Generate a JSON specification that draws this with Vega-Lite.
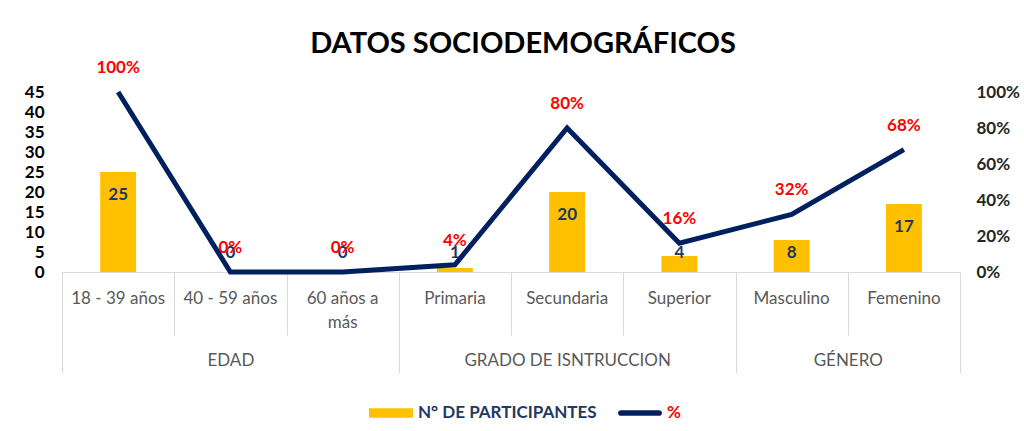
{
  "$schema": "https://vega.github.io/schema/vega-lite/v6.json",
  "autosize": {"type": "none"},
  "width": 898,
  "height": 180,
  "padding": {"left": 62, "top": 92, "right": 64, "bottom": 159},
  "background": "#ffffff",
  "config": {"view": {"stroke": null}, "font": "Lato"},
  "title": {"text": "DATOS SOCIODEMOGRÁFICOS", "font": "Lato", "fontSize": 29, "fontWeight": "bold", "color": "#000000", "anchor": "middle", "offset": 0, "dx": 12},
  "datasets": {
    "rows": [
      {"cat": "18 - 39 años", "group": "EDAD", "count": 25, "pct": 1.0},
      {"cat": "40 - 59 años", "group": "EDAD", "count": 0, "pct": 0.0},
      {"cat": "60 años a más", "group": "EDAD", "count": 0, "pct": 0.0},
      {"cat": "Primaria", "group": "GRADO DE ISNTRUCCION", "count": 1, "pct": 0.04},
      {"cat": "Secundaria", "group": "GRADO DE ISNTRUCCION", "count": 20, "pct": 0.8},
      {"cat": "Superior", "group": "GRADO DE ISNTRUCCION", "count": 4, "pct": 0.16},
      {"cat": "Masculino", "group": "GÉNERO", "count": 8, "pct": 0.32},
      {"cat": "Femenino", "group": "GÉNERO", "count": 17, "pct": 0.68}
    ],
    "groups": [
      {"group": "EDAD", "mid": 1.5},
      {"group": "GRADO DE ISNTRUCCION", "mid": 4.5},
      {"group": "GÉNERO", "mid": 7}
    ]
  },
  "layer": [
    {
      "data": {"name": "rows"},
      "encoding": {
        "x": {
          "field": "cat", "type": "nominal", "sort": null,
          "scale": {"paddingInner": 0, "paddingOuter": 0},
          "axis": {
            "title": null, "ticks": false, "tickSize": 0, "domain": false, "grid": false,
            "labelAngle": 0, "labelFont": "Lato", "labelFontSize": 17, "labelColor": "#595959",
            "labelPadding": 18, "labelLineHeight": 24, "labelBaseline": "top",
            "labelExpr": "datum.label == '60 años a más' ? ['60 años a', 'más'] : datum.label"
          }
        }
      },
      "layer": [
        {
          "mark": {"type": "bar", "width": {"band": 0.32}},
          "encoding": {
            "y": {"field": "count", "type": "quantitative", "scale": {"domain": [0, 45], "nice": false},
              "axis": {"title": null, "values": [0, 5, 10, 15, 20, 25, 30, 35, 40, 45], "ticks": false, "domain": false, "grid": false,
                "labelFont": "Lato", "labelFontSize": 17, "labelFontWeight": "bold", "labelColor": "#000000", "labelPadding": 18}},
            "color": {"datum": "N° DE PARTICIPANTES", "type": "nominal",
              "scale": {"domain": ["N° DE PARTICIPANTES", "%"], "range": ["#FFC000", "#002060"]},
              "legend": {
                "orient": "none", "legendX": 307, "legendY": 299, "direction": "horizontal", "title": null,
                "symbolType": "M-1,-0.22H1V0.22H-1Z", "symbolSize": 1936, "symbolStrokeWidth": 0,
                "labelFont": "Lato", "labelFontSize": 17, "labelFontWeight": "bold", "labelColor": "#1f3864",
                "labelOffset": 5, "columnPadding": 20, "labelLimit": 400,
                "encode": {
                  "symbols": {"update": {
                    "shape": {"signal": "datum.value == '%' ? 'M-0.87,-0.13H0.87A0.13,0.13,0,0,1,0.87,0.13H-0.87A0.13,0.13,0,0,1,-0.87,-0.13Z' : 'M-1,-0.22H1V0.22H-1Z'"},
                    "fill": {"signal": "datum.value == '%' ? '#002060' : '#FFC000'"},
                    "fillOpacity": {"value": 1},
                    "opacity": {"value": 1},
                    "strokeWidth": {"value": 0}
                  }},
                  "labels": {"update": {"fill": {"signal": "datum.value == '%' ? '#ff0000' : '#1f3864'"}}}
                }
              }
            }
          }
        },
        {
          "mark": {"type": "line", "strokeWidth": 5},
          "encoding": {
            "y": {"field": "pct", "type": "quantitative", "scale": {"domain": [0, 1], "nice": false},
              "axis": {"title": null, "orient": "right", "values": [0, 0.2, 0.4, 0.6, 0.8, 1], "format": ".0%", "ticks": false, "domain": false, "grid": false,
                "labelFont": "Lato", "labelFontSize": 17, "labelFontWeight": "bold", "labelColor": "#262626", "labelPadding": 16}},
            "color": {"datum": "%", "type": "nominal"}
          }
        },
        {
          "mark": {"type": "text", "font": "Lato", "fontSize": 17, "fontWeight": "bold", "color": "#1f3864", "baseline": "middle",
            "dy": {"expr": "datum.count > 9 ? 23 : 4 * datum.count - 19"}},
          "encoding": {
            "y": {"field": "count", "type": "quantitative", "scale": {"domain": [0, 45], "nice": false}, "axis": null},
            "text": {"field": "count", "type": "quantitative"}
          }
        },
        {
          "mark": {"type": "text", "font": "Lato", "fontSize": 17, "fontWeight": "bold", "color": "#ff0000", "baseline": "middle", "dy": -24},
          "encoding": {
            "y": {"field": "pct", "type": "quantitative", "scale": {"domain": [0, 1], "nice": false}, "axis": null},
            "text": {"field": "pct", "type": "quantitative", "format": ".0%"}
          }
        }
      ],
      "resolve": {"scale": {"y": "independent"}}
    },
    {
      "data": {"name": "groups"},
      "mark": {"type": "point", "opacity": 0},
      "encoding": {
        "x": {
          "field": "mid", "type": "quantitative",
          "scale": {"domain": [0, 8], "nice": false, "zero": false},
          "axis": {
            "orient": "bottom", "title": null, "grid": false, "domain": true, "domainColor": "#d9d9d9",
            "values": [0, 1, 1.5, 2, 3, 4, 4.5, 5, 6, 7, 8],
            "tickColor": "#d9d9d9", "tickWidth": 1,
            "tickSize": {"condition": {"test": "datum.value == 0 || datum.value == 3 || datum.value == 6 || datum.value == 8", "value": 101}, "value": 63},
            "tickOpacity": {"condition": {"test": "datum.value == 1.5 || datum.value == 4.5", "value": 0}, "value": 1},
            "labelExpr": "datum.value == 1.5 ? 'EDAD' : datum.value == 4.5 ? 'GRADO DE ISNTRUCCION' : datum.value == 7 ? 'GÉNERO' : ''",
            "labelFont": "Lato", "labelFontSize": 17, "labelColor": "#595959", "labelPadding": 17, "labelLimit": 400,
            "labelBaseline": "top", "labelFlush": false, "labelOverlap": false, "labelBound": false
          }
        }
      }
    }
  ],
  "resolve": {"scale": {"x": "independent"}}
}
